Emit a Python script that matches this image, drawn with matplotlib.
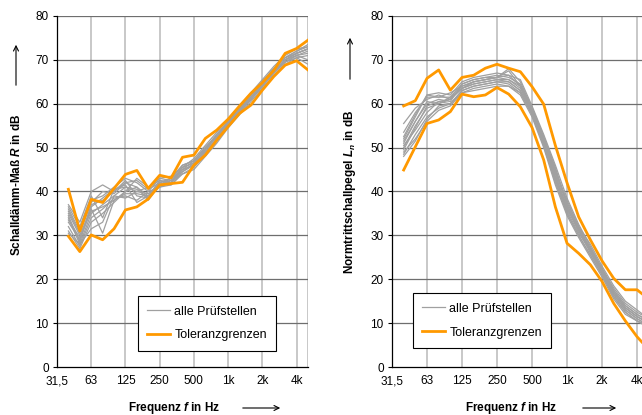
import matplotlib
matplotlib.use("Agg")
import matplotlib.pyplot as plt
import numpy as np

plt.rcParams['font.family'] = ['Liberation Sans', 'DejaVu Sans']
plt.rcParams['mathtext.fontset'] = 'custom'
plt.rcParams['mathtext.rm'] = 'Liberation Sans:bold'
plt.rcParams['mathtext.it'] = 'Liberation Sans:italic:bold'

# third-octave bands 40 Hz ... 5000 Hz (index 1..22, index 0 = 31,5 Hz)
bands = ["40", "50", "63", "80", "100", "125", "160", "200", "250", "315", "400",
         "500", "630", "800", "1000", "1250", "1600", "2000", "2500", "3150", "4000", "5000"]
tick_labels = ["31,5", "63", "125", "250", "500", "1k", "2k", "4k"]

# Schalldaemm-Mass R, all test labs
R_gray = [
    [37, 33, 40, 41.5, 40, 42, 41, 39, 42, 43, 46, 47, 50, 53, 56, 59, 62, 65, 68, 70.5, 72, 73.5],
    [36, 31, 38, 39, 41, 43, 42, 40, 43, 43.5, 45.5, 47.5, 50.5, 53.5, 56.5, 59.5, 62.5, 65.5, 68.5, 71, 72.5, 73],
    [35, 30, 36, 30.5, 38, 40, 43, 41, 42.5, 42, 45, 46, 49, 52, 55.5, 58.5, 61.5, 64.5, 67.5, 70, 71.5, 72.5],
    [34, 28, 35, 37, 39, 41, 40, 39.5, 41.5, 42.5, 44.5, 46.5, 49.5, 52.5, 55, 58, 61, 64, 67, 69.5, 71, 72],
    [33, 29, 37, 38, 40, 42.5, 39, 38.5, 42, 41.5, 44, 45.5, 48.5, 51.5, 55, 58, 61, 64, 67, 70, 71.5, 72.5],
    [32, 27.5, 34, 36, 38.5, 39, 38, 40, 41, 42, 45, 46, 49, 52, 55, 58.5, 61.5, 64.5, 67, 69.5, 70.5, 69],
    [31, 27, 33, 35, 37.5, 40, 41, 38, 41.5, 43, 46, 47, 50, 52.5, 56, 59, 62, 65, 68, 70.5, 72, 73],
    [36.5, 32, 39, 34, 40.5, 41.5, 37.5, 39, 42.5, 42, 45.5, 46.5, 49.5, 53, 56, 58.5, 61, 64, 67.5, 70, 71, 71.5],
    [30.5, 28, 31.5, 33, 39, 38.5, 40, 41, 43, 42.5, 44, 45, 48, 51, 54.5, 57.5, 60.5, 63.5, 66.5, 69, 70.5, 71],
    [35.5, 30.5, 37.5, 40, 39.5, 42, 42.5, 40.5, 42, 43, 45, 47, 50, 52.5, 55.5, 58.5, 62, 65, 68, 70.5, 71.5, 72.5],
    [33.5, 29.5, 35.5, 36.5, 38, 39.5, 39.5, 39, 41, 41.5, 44.5, 46, 49, 52, 55, 58, 61, 64, 67, 69.5, 71, 70],
    [34.5, 28.5, 36.5, 38.5, 40.5, 41, 40.5, 38.5, 41.5, 42.5, 45.5, 46.5, 49.5, 52.5, 55.5, 58.5, 61.5, 64.5, 67.5, 70, 71.5, 72.5],
]
R_upper = [40.5, 31, 38.2, 37.5, 40.7, 43.9, 44.8, 40.7, 43.7, 43.1, 47.8, 48.3, 52.1, 54.0, 56.5,
           59.5, 62.4, 64.8, 67.6, 71.5, 72.6, 74.5]
R_lower = [29.8, 26.3, 30.1, 29.0, 31.5, 35.8, 36.5, 38.3, 41.5, 41.8, 42.1, 46.0, 48.3, 51.7, 54.8,
           57.8, 59.7, 63.1, 66.2, 68.8, 69.8, 67.7]

# Normtrittschallpegel Ln, all test labs
L_gray = [
    [55.5, 59, 61, 62, 61, 64, 65, 65.5, 66, 67.5, 64, 58.5, 52, 44, 36, 31, 27, 22, 17, 13.5, 11.5, 10],
    [52, 57, 62, 62.5, 62, 65, 66, 66.5, 67, 66.5, 65.5, 59.5, 53, 46, 38.5, 32.5, 27.5, 22.5, 18, 14.5, 12.5, 11],
    [50, 55, 59, 60, 61.5, 63.5, 64.5, 65, 65.5, 65, 63, 58, 51, 43, 35.5, 30.5, 26.5, 21.5, 16.5, 13, 11, 9.5],
    [48.5, 53, 57, 59, 60, 63, 64, 64.5, 65, 64.5, 62.5, 57.5, 50.5, 42, 35, 30, 25.5, 21, 16, 12.5, 10.5, 9],
    [51, 56, 60, 61, 60.5, 64.5, 65.5, 66, 66.5, 66, 64.5, 59, 52.5, 45, 37.5, 32, 27, 22.5, 17.5, 14, 12, 10.5],
    [49, 52, 56, 58.5, 59.5, 62.5, 63.5, 64, 64.5, 64, 62, 57, 50, 41.5, 34.5, 29.5, 25, 20.5, 15.5, 12, 10.5, 9.5],
    [53.5, 58, 61.5, 61.5, 62.5, 64, 65, 65.5, 66, 68, 65, 59, 52, 44.5, 37, 31.5, 27, 22, 17, 13.5, 11.5, 10],
    [50.5, 54, 58, 60.5, 61, 63.5, 64.5, 65, 65.5, 65.5, 63.5, 58.5, 51.5, 43.5, 36.5, 31, 26, 21.5, 16.5, 13, 11, 9.5],
    [48, 51.5, 56.5, 59.5, 60, 62.5, 63, 63.5, 64, 64, 62.5, 57.5, 51, 43, 36, 31.5, 26.5, 22, 17.5, 14, 12, 10.5],
    [52.5, 57.5, 62, 61.5, 61.5, 64.5, 65.5, 66, 66, 66.5, 64, 58, 51.5, 44.5, 38, 32, 28, 23, 18.5, 15, 13, 11],
    [49.5, 54.5, 59.5, 60.5, 60, 63, 64, 64.5, 65, 65, 63, 58, 50.5, 42.5, 35, 30, 25.5, 21, 16, 12.5, 10.5, 9],
    [51.5, 56, 60.5, 60, 61, 63.5, 65, 65.5, 66, 65.5, 64, 59, 52.5, 45.5, 37, 31.5, 26.5, 21.5, 17, 13.5, 11.5, 10],
]
L_upper = [59.5, 60.7, 65.8, 67.7, 63.1, 66.0, 66.5, 68.1, 69.0, 68.1, 67.3, 63.9, 59.9, 50.5, 42.0,
           34.2, 29.0, 24.2, 20.2, 17.6, 17.6, 15.5]
L_lower = [44.9, 50.2, 55.5, 56.3, 58.2, 62.2, 61.6, 62.0, 63.7, 62.2, 59.3, 54.6, 47.2, 36.5, 28.2,
           25.9, 23.3, 19.5, 14.5, 10.5, 6.9, 4.0]

GRAY = '#a0a0a0'
ORANGE = '#ff9900'
FS = 8.5

fig = plt.figure(figsize=(6.42, 4.15), dpi=100)
W, H = 642, 415
ax1 = fig.add_axes([57 / W, 48 / H, 251 / W, 351 / H])
ax2 = fig.add_axes([392 / W, 48 / H, 256.7 / W, 351 / H])

x = np.arange(1, len(bands) + 1)


def style(ax):
    ax.set_xlim(0, 22)
    ax.set_ylim(0, 80)
    ax.set_yticks(range(0, 81, 10))
    ax.set_xticks(range(0, 22, 3))
    ax.set_xticklabels(tick_labels)
    for t in range(3, 22, 3):
        ax.axvline(t, color='#c4c4c4', lw=1.3, zorder=0)
    ax.axvline(22, color='#c4c4c4', lw=1.3, zorder=0)
    for v in range(10, 81, 10):
        ax.axhline(v, color='#6e6e6e', lw=0.9, zorder=0)
    for s in ['top', 'right']:
        ax.spines[s].set_visible(False)
    for s in ['left', 'bottom']:
        ax.spines[s].set_color('black')
        ax.spines[s].set_linewidth(0.9)
    ax.tick_params(axis='both', direction='out', length=3, width=0.8,
                   labelsize=FS, pad=3)
    ax.tick_params(axis='x', length=0, pad=6)


def legend(ax, anchor):
    leg = ax.legend(loc='lower left', bbox_to_anchor=anchor, borderaxespad=0,
                    fontsize=9, frameon=True, fancybox=False, handlelength=1.8,
                    handletextpad=0.35, labelspacing=0.95, borderpad=0.75)
    leg.get_frame().set_edgecolor('black')
    leg.get_frame().set_linewidth(0.8)
    leg.get_frame().set_alpha(1)


for ax, gray, up, lo in [(ax1, R_gray, R_upper, R_lower), (ax2, L_gray, L_upper, L_lower)]:
    style(ax)
    for i, g in enumerate(gray):
        ax.plot(x, g, color=GRAY, lw=0.9, zorder=2,
                label='alle Prüfstellen' if i == 0 else None)
    ax.plot(x, up, color=ORANGE, lw=2.0, zorder=3, label='Toleranzgrenzen')
    ax.plot(x, lo, color=ORANGE, lw=2.0, zorder=3)

legend(ax1, (0.323, 0.046))
legend(ax2, (0.082, 0.054))

# axis titles
fig.text(17 / W, 1 - 185 / H, r'Schalldämm-Maß $R$ in dB', rotation=90,
         ha='center', va='center', fontsize=8.5, fontweight='bold')
fig.text(350 / W, 1 - 192 / H, r'Normtrittschallpegel $L_n$ in dB', rotation=90,
         ha='center', va='center', fontsize=8.5, fontweight='bold')
fig.text(174 / W, 1 - 408 / H, r'Frequenz $f$ in Hz', ha='center', va='center',
         fontsize=8.5, fontweight='bold')
fig.text(511 / W, 1 - 408 / H, r'Frequenz $f$ in Hz', ha='center', va='center',
         fontsize=8.5, fontweight='bold')

arrow = dict(arrowstyle='->', lw=0.8, color='black', mutation_scale=9)
arrows = [((16, 42), (16, 88)), ((350, 35), (350, 82)),
          ((283, 408), (240, 408)), ((619, 408), (580, 408))]
for head, tail in arrows:
    ax1.annotate('', xy=(head[0] / W, 1 - head[1] / H), xytext=(tail[0] / W, 1 - tail[1] / H),
                 xycoords='figure fraction', textcoords='figure fraction',
                 arrowprops=arrow, annotation_clip=False)

plt.savefig("out.png", dpi=100)
